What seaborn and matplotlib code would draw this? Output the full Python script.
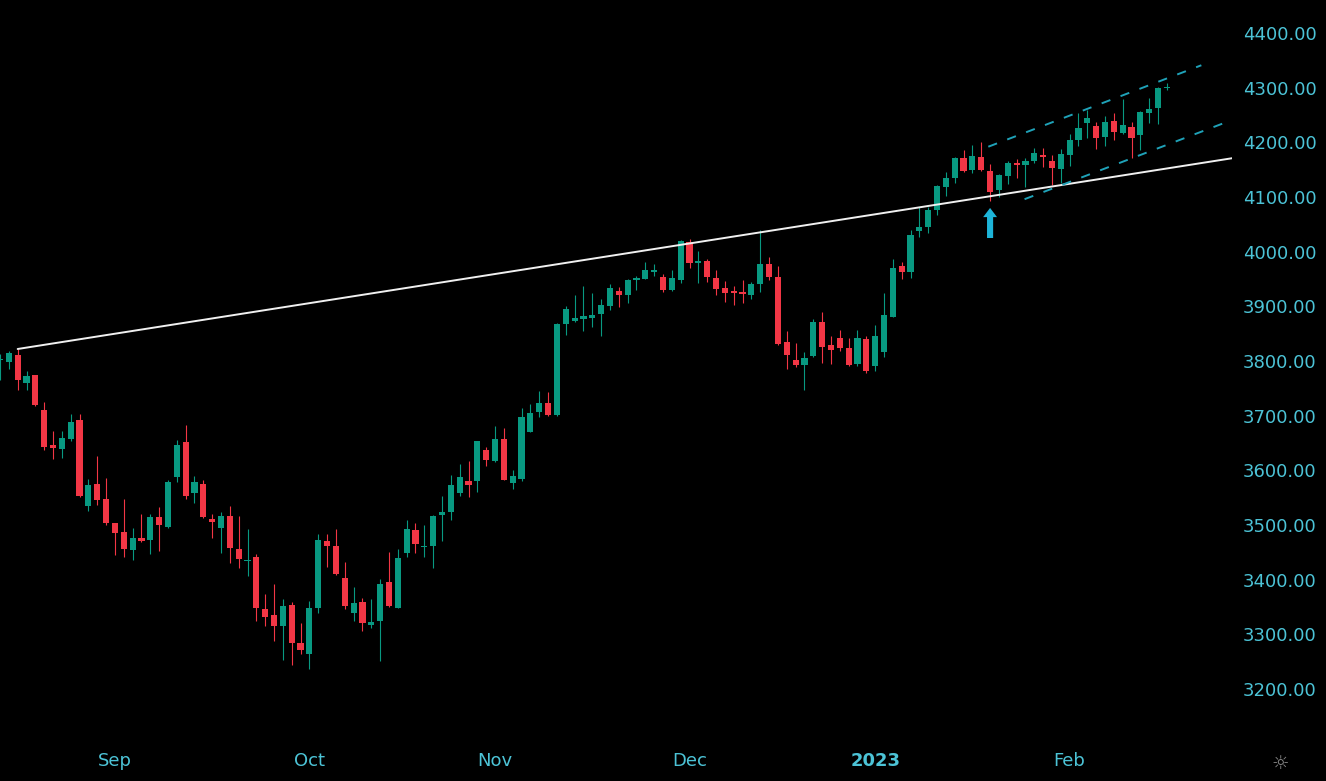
import numpy as np
import pandas as pd
import matplotlib
matplotlib.use("Agg")
import matplotlib.pyplot as plt
import seaborn as sns

# ---------------- data ----------------
dates = pd.bdate_range("2022-08-15", "2023-02-16")
dates = dates[dates != pd.Timestamp("2022-12-26")]

opens = [3801, 3798, 3811, 3760, 3774, 3710, 3646, 3639, 3657, 3692,
         3535, 3575, 3547, 3503, 3488, 3454, 3476, 3472, 3514, 3496,
         3588, 3651, 3559, 3575, 3511, 3495, 3516, 3457, 3434, 3441,
         3346, 3335, 3316, 3354, 3284, 3264, 3348, 3470, 3462, 3404,
         3340, 3359, 3318, 3325, 3395, 3349, 3448, 3491, 3460, 3462,
         3518, 3523, 3559, 3580, 3580, 3637, 3618, 3657, 3577, 3584,
         3671, 3706, 3723, 3701, 3867, 3874, 3876, 3878, 3886, 3901,
         3928, 3921, 3949, 3950, 3963, 3953, 3930, 3948, 4018, 3980,
         3983, 3951, 3933, 3928, 3926, 3920, 3940, 3977, 3954, 3835,
         3802, 3793, 3809, 3871, 3829, 3842, 3823, 3795, 3840, 3790,
         3816, 3881, 3973, 3962, 4037, 4045, 4076, 4119, 4135, 4172,
         4150, 4174, 4148, 4113, 4139, 4162, 4159, 4166, 4176, 4166,
         4151, 4177, 4205, 4235, 4230, 4210, 4239, 4217, 4228, 4213,
         4254, 4263, 4299]
highs = [3812, 3819, 3822, 3781, 3775, 3725, 3672, 3672, 3703, 3704,
         3584, 3627, 3586, 3504, 3547, 3494, 3520, 3520, 3533, 3582,
         3655, 3683, 3590, 3582, 3521, 3523, 3535, 3516, 3493, 3447,
         3374, 3392, 3365, 3359, 3321, 3361, 3484, 3484, 3493, 3432,
         3387, 3366, 3364, 3401, 3451, 3456, 3509, 3504, 3500, 3518,
         3553, 3591, 3612, 3617, 3654, 3642, 3681, 3677, 3601, 3714,
         3722, 3745, 3743, 3869, 3900, 3920, 3937, 3924, 3913, 3940,
         3935, 3950, 3956, 3981, 3978, 3960, 3966, 4021, 4023, 4002,
         3987, 3966, 3946, 3937, 3949, 3945, 4040, 3990, 3974, 3854,
         3833, 3816, 3877, 3889, 3845, 3857, 3842, 3857, 3845, 3866,
         3924, 3986, 3981, 4040, 4081, 4081, 4122, 4146, 4174, 4186,
         4195, 4200, 4160, 4143, 4165, 4170, 4172, 4190, 4190, 4177,
         4187, 4215, 4254, 4259, 4237, 4249, 4254, 4279, 4238, 4257,
         4282, 4301, 4308]
lows = [3766, 3785, 3747, 3747, 3717, 3637, 3621, 3623, 3654, 3552,
        3526, 3537, 3500, 3446, 3442, 3436, 3469, 3447, 3453, 3495,
        3579, 3547, 3541, 3512, 3477, 3448, 3430, 3421, 3407, 3325,
        3315, 3287, 3254, 3244, 3264, 3236, 3340, 3424, 3408, 3347,
        3324, 3307, 3312, 3251, 3350, 3348, 3441, 3448, 3442, 3421,
        3470, 3510, 3553, 3552, 3560, 3608, 3616, 3582, 3565, 3580,
        3670, 3698, 3700, 3700, 3848, 3872, 3854, 3863, 3846, 3894,
        3899, 3906, 3929, 3950, 3955, 3927, 3928, 3943, 3971, 3942,
        3945, 3920, 3908, 3903, 3906, 3913, 3927, 3949, 3829, 3785,
        3789, 3747, 3808, 3796, 3795, 3819, 3790, 3790, 3779, 3782,
        3808, 3880, 3950, 3951, 4026, 4034, 4067, 4102, 4126, 4146,
        4144, 4148, 4093, 4100, 4124, 4134, 4119, 4162, 4154, 4122,
        4125, 4157, 4194, 4208, 4187, 4193, 4204, 4215, 4172, 4186,
        4235, 4234, 4296]
closes = [3803, 3814, 3765, 3773, 3719, 3643, 3640, 3659, 3688, 3553,
          3573, 3546, 3504, 3486, 3457, 3476, 3471, 3514, 3500, 3579,
          3647, 3553, 3579, 3514, 3506, 3517, 3458, 3438, 3436, 3349,
          3332, 3316, 3352, 3285, 3272, 3348, 3472, 3462, 3410, 3352,
          3357, 3320, 3323, 3392, 3351, 3440, 3493, 3466, 3462, 3516,
          3524, 3573, 3588, 3574, 3653, 3619, 3657, 3583, 3590, 3698,
          3705, 3723, 3701, 3867, 3895, 3879, 3882, 3884, 3902, 3933,
          3921, 3949, 3952, 3966, 3966, 3929, 3951, 4020, 3980, 3983,
          3953, 3932, 3924, 3924, 3923, 3940, 3978, 3954, 3832, 3811,
          3793, 3805, 3871, 3826, 3820, 3824, 3793, 3842, 3782, 3846,
          3884, 3971, 3962, 4031, 4046, 4077, 4120, 4135, 4171, 4148,
          4175, 4150, 4110, 4140, 4162, 4158, 4165, 4180, 4174, 4153,
          4178, 4204, 4226, 4245, 4208, 4237, 4219, 4231, 4208, 4256,
          4261, 4300, 4301]

price_ticks = [3200, 3300, 3400, 3500, 3600, 3700, 3800, 3900, 4000, 4100, 4200, 4300, 4400]

# drawing annotations (bar position, price)
trend_pos = [2, 139.4]
trend_price = [3822, 4171]
chan_upper_pos = [111.8, 135.9]
chan_upper_price = [4192, 4341]
chan_lower_pos = [115.9, 138.9]
chan_lower_price = [4096, 4238]
arrow_pos = 112
arrow_from, arrow_to = 4025, 4080

# ---------------- frame ----------------
df = pd.DataFrame({"date": dates, "open": opens, "high": highs,
                   "low": lows, "close": closes})
df["pos"] = np.arange(len(df))
df["up"] = df["close"] >= df["open"]

GREEN = "#089981"
RED = "#f23645"
TXT = "#4cc3d6"

sns.set_theme(style="dark", rc={
    "figure.facecolor": "black", "axes.facecolor": "black",
    "axes.grid": False, "savefig.facecolor": "black"})
plt.rcParams["font.family"] = ["DejaVu Sans"]

W, H = 1326, 781
fig = plt.figure(figsize=(W / 100, H / 100), dpi=100)
ax = fig.add_axes([0, (H - 740) / H, 1232 / W, 740 / H])

colors = np.where(df["up"], GREEN, RED)
# wicks
ax.vlines(df["pos"], df["low"], df["high"], colors=colors, linewidth=0.8, zorder=2)
# bodies
body_lo = np.minimum(df["open"], df["close"])
body_h = np.maximum((df["close"] - df["open"]).abs(), 1.6)
ax.bar(df["pos"], body_h, bottom=body_lo, width=0.7, color=colors,
       linewidth=0, zorder=3)

# trend line
sns.lineplot(x=trend_pos, y=trend_price, ax=ax, color="#f0f0f0",
             linewidth=1.4, zorder=4)
# channel
for xs, ys in [(chan_upper_pos, chan_upper_price), (chan_lower_pos, chan_lower_price)]:
    sns.lineplot(x=xs, y=ys, ax=ax, color="#1fa2b8", linewidth=1.4,
                 linestyle=(0, (4.8, 5.6)), zorder=4)

# arrow
ax.annotate("", xy=(arrow_pos, arrow_to), xytext=(arrow_pos, arrow_from),
            arrowprops=dict(arrowstyle="simple,head_width=0.5,head_length=0.33,tail_width=0.22",
                            mutation_scale=20, color="#1db4d8", shrinkA=0, shrinkB=0,
                            linewidth=0), zorder=5)

px_per_price = 0.5467
ax.set_ylim(4400 - (740 - 33) / px_per_price, 4400 + 33 / px_per_price)
ax.set_xlim(0, 1232 / 8.84)

# axes styling
for s in ax.spines.values():
    s.set_visible(False)
ax.yaxis.tick_right()
ax.set_yticks(price_ticks)
ax.set_yticklabels([f"{v:.2f}" for v in price_ticks])
ax.tick_params(axis="y", length=0, pad=8, labelsize=13, labelcolor=TXT)

month_start = df.groupby([df["date"].dt.year, df["date"].dt.month])["pos"].min().values[1:]
labels = []
for p in month_start:
    d = df["date"].iloc[p]
    labels.append(str(d.year) if d.month == 1 else d.strftime("%b"))
ax.set_xticks(month_start)
ax.set_xticklabels(labels)
ax.tick_params(axis="x", length=0, pad=9, labelsize=13, labelcolor=TXT)
for t in ax.get_xticklabels():
    if t.get_text().isdigit():
        t.set_fontweight("bold")
ax.set_xlabel("")
ax.set_ylabel("")

fig.text(1280 / W, 1 - 763 / H, "\u263c", color="#8a8a8a", ha="center",
         va="center", fontsize=14)

fig.savefig("out.png", dpi=100, facecolor="black")
